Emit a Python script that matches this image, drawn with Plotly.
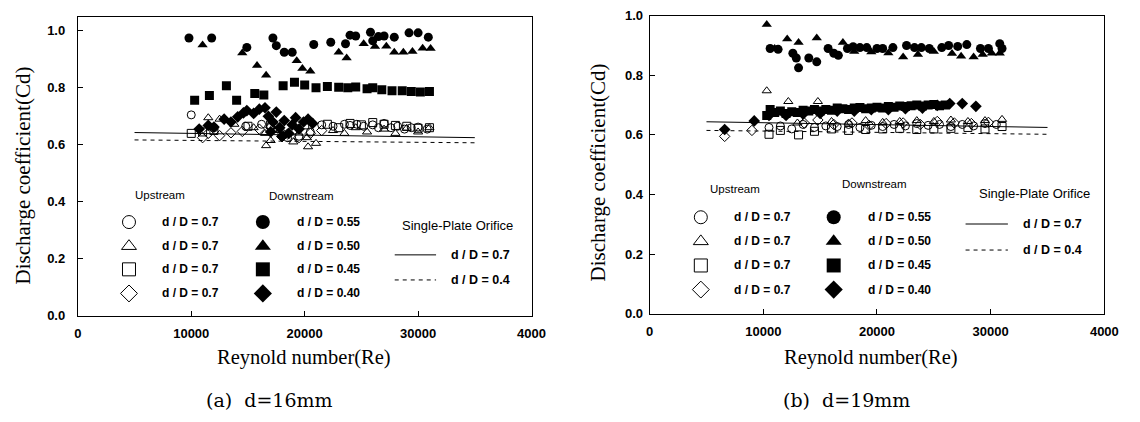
import plotly.graph_objects as go

# ---------------- (a) d=16mm ----------------
a_up_circ_re = [10000, 12000, 14800, 16200, 17000, 17600, 18000, 18500, 19000, 19500, 20500, 21500, 22500, 23500, 24000, 24600, 25200, 26000, 26500, 27000, 27600, 28200, 28800, 29400, 30000, 30800]
a_up_circ_cd = [0.705, 0.66, 0.665, 0.672, 0.665, 0.66, 0.64, 0.625, 0.65, 0.63, 0.645, 0.67, 0.665, 0.672, 0.668, 0.672, 0.665, 0.67, 0.66, 0.675, 0.66, 0.665, 0.655, 0.66, 0.662, 0.655]
a_up_tri_re = [11500, 12500, 13800, 15500, 16500, 16600, 17000, 17800, 19000, 20200, 20300, 21000, 22500, 23500, 24500, 25500, 27000, 28000, 29000, 30000, 31000]
a_up_tri_cd = [0.695, 0.69, 0.672, 0.66, 0.64, 0.597, 0.615, 0.65, 0.61, 0.625, 0.593, 0.605, 0.65, 0.64, 0.66, 0.645, 0.655, 0.64, 0.658, 0.645, 0.66]
a_up_sq_re = [10000, 11000, 12000, 15000, 17000, 20000, 22000, 23000, 24000, 25000, 26000, 27000, 28000, 29000, 30000, 31000]
a_up_sq_cd = [0.64, 0.645, 0.65, 0.665, 0.67, 0.67, 0.672, 0.66, 0.675, 0.67, 0.678, 0.672, 0.668, 0.665, 0.658, 0.66]
a_up_dia_re = [11000, 11500, 12500, 13500, 14500, 16000, 17000, 18000, 18500, 19500, 20500, 21500]
a_up_dia_cd = [0.625, 0.64, 0.632, 0.642, 0.647, 0.655, 0.662, 0.628, 0.638, 0.625, 0.64, 0.65]

a_dn_circ_re = [9800, 11800, 14900, 17200, 17500, 18200, 18900, 20800, 22300, 23600, 24000, 24500, 25800, 26000, 26500, 27000, 27900, 29200, 30000, 30900]
a_dn_circ_cd = [0.975, 0.975, 0.942, 0.975, 0.948, 0.925, 0.925, 0.952, 0.96, 0.955, 0.985, 0.982, 0.995, 0.965, 0.98, 0.982, 0.978, 0.993, 0.993, 0.978]
a_dn_tri_re = [11000, 14500, 15800, 16600, 19300, 19800, 20500, 23000, 23700, 25200, 26200, 27200, 27900, 28700, 29500, 30400, 31100]
a_dn_tri_cd = [0.95, 0.922, 0.878, 0.844, 0.895, 0.868, 0.858, 0.925, 0.905, 0.955, 0.945, 0.946, 0.925, 0.925, 0.928, 0.939, 0.938]
a_dn_sq_re = [10300, 11600, 13100, 14000, 15600, 16400, 18100, 19100, 20000, 21000, 22000, 23000, 23800, 24500, 25500, 26000, 26800, 27700, 28600, 29400, 30200, 31000]
a_dn_sq_cd = [0.756, 0.773, 0.807, 0.756, 0.78, 0.775, 0.807, 0.82, 0.81, 0.8, 0.805, 0.802, 0.8, 0.803, 0.797, 0.8, 0.793, 0.79, 0.79, 0.787, 0.785, 0.787]
a_dn_dia_re = [10700, 11500, 12000, 12900, 13500, 14100, 14600, 14900, 15500, 16000, 16500, 16800, 17000, 17200, 17500, 17800, 18000, 18200, 18600, 18900, 19200, 19500, 19900, 20300, 20700]
a_dn_dia_cd = [0.655, 0.668, 0.662, 0.69, 0.68, 0.698, 0.712, 0.72, 0.71, 0.725, 0.73, 0.7, 0.645, 0.68, 0.715, 0.66, 0.63, 0.685, 0.64, 0.67, 0.695, 0.655, 0.68, 0.69, 0.675]

a_sp07_re = [5000, 35000]
a_sp07_cd = [0.643, 0.625]
a_sp04_re = [5000, 35000]
a_sp04_cd = [0.617, 0.607]

# ---------------- (b) d=19mm ----------------
b_up_circ_re = [10500, 11500, 12500, 13500, 14500, 15500, 16500, 17500, 18500, 19500, 20500, 21500, 22500, 23500, 24500, 25500, 26500, 27500, 28500, 29500, 30500]
b_up_circ_cd = [0.625, 0.63, 0.62, 0.635, 0.625, 0.63, 0.628, 0.635, 0.625, 0.632, 0.628, 0.635, 0.63, 0.638, 0.632, 0.635, 0.628, 0.635, 0.63, 0.638, 0.635]
b_up_tri_re = [10300, 12200, 14800, 13000, 16000, 17500, 19000, 20500, 22000, 23500, 25000, 26500, 28000, 29500, 31000]
b_up_tri_cd = [0.748, 0.712, 0.712, 0.64, 0.645, 0.64, 0.648, 0.642, 0.645, 0.648, 0.645, 0.65, 0.645, 0.648, 0.652]
b_up_sq_re = [10500, 11500, 13100, 14500, 16000, 17500, 19000, 20500, 22000, 23500, 25000, 26500, 28000, 29500, 31000]
b_up_sq_cd = [0.602, 0.615, 0.6, 0.612, 0.62, 0.615, 0.618, 0.62, 0.622, 0.618, 0.62, 0.622, 0.625, 0.62, 0.628]
b_up_dia_re = [6600, 9000, 13600, 14800, 16200, 17800, 19300, 20800, 22300, 23800, 25300, 26800, 28300, 29800]
b_up_dia_cd = [0.595, 0.615, 0.64, 0.65, 0.635, 0.64, 0.632, 0.638, 0.64, 0.635, 0.645, 0.64, 0.638, 0.642]

b_dn_circ_re = [10600, 11300, 12600, 12900, 13100, 14000, 14700, 15700, 16200, 16600, 17400, 17900, 18500, 19100, 20000, 20500, 21400, 22600, 23300, 23900, 24600, 25700, 26300, 27100, 27900, 29100, 29800, 30800, 31000]
b_dn_circ_cd = [0.89, 0.887, 0.874, 0.858, 0.825, 0.858, 0.845, 0.89, 0.874, 0.867, 0.89, 0.896, 0.893, 0.893, 0.89, 0.89, 0.893, 0.9, 0.893, 0.893, 0.89, 0.893, 0.9, 0.897, 0.903, 0.89, 0.89, 0.906, 0.89]
b_dn_tri_re = [10300, 11000, 12100, 13100, 14700, 17000, 18000, 19500, 21000, 22300, 23600, 25000, 26600, 27400, 28500, 29300, 30100, 30800]
b_dn_tri_cd = [0.97, 0.89, 0.922, 0.91, 0.925, 0.91, 0.88, 0.878, 0.875, 0.861, 0.87, 0.88, 0.873, 0.864, 0.861, 0.87, 0.874, 0.874]
b_dn_sq_re = [10300, 10600, 11000, 11500, 12000, 12500, 13000, 13500, 14000, 14500, 15000, 15500, 16000, 16500, 17000, 17500, 18000, 18500, 19000, 19500, 20000, 20500, 21000, 21500, 22000, 22500, 23000, 23500, 24000, 24500, 25000, 25500, 26000]
b_dn_sq_cd = [0.665, 0.685, 0.675, 0.68, 0.672, 0.678, 0.675, 0.683, 0.68, 0.685, 0.68, 0.685, 0.683, 0.69, 0.688, 0.685, 0.69, 0.692, 0.688, 0.69, 0.693, 0.69, 0.695, 0.693, 0.697, 0.695, 0.698, 0.7, 0.697, 0.7, 0.702, 0.698, 0.7]
b_dn_dia_re = [6600, 9200, 10500, 12000, 13500, 15000, 16500, 18000, 19500, 21000, 22500, 24000, 25300, 26400, 27500, 28700]
b_dn_dia_cd = [0.618, 0.647, 0.665, 0.665, 0.67, 0.672, 0.68, 0.68, 0.685, 0.685, 0.688, 0.69, 0.699, 0.705, 0.705, 0.696]

b_sp07_re = [5000, 35000]
b_sp07_cd = [0.644, 0.625]
b_sp04_re = [5000, 35000]
b_sp04_cd = [0.615, 0.602]

# ---------------- ticks & labels ----------------
x_tick_vals = [0, 10000, 20000, 30000, 40000]
x_tick_text = ["0", "10000", "20000", "30000", "4000"]
y_tick_vals = [0.0, 0.2, 0.4, 0.6, 0.8, 1.0]
y_tick_text = ["0.0", "0.2", "0.4", "0.6", "0.8", "1.0"]
legend_up_labels = ["d / D = 0.7", "d / D = 0.7", "d / D = 0.7", "d / D = 0.7"]
legend_dn_labels = ["d / D = 0.55", "d / D = 0.50", "d / D = 0.45", "d / D = 0.40"]
legend_sp_labels = ["d / D = 0.7", "d / D = 0.4"]
captions = ["(a)\u00a0 d=16mm", "(b)\u00a0 d=19mm"]

W, H = 1140, 422
fig = go.Figure()

def pxx(p):
    return p / W

def pxy(p):
    return 1 - p / H

open_syms = ["circle-open", "triangle-up-open", "square-open", "diamond-open"]
fill_syms = ["circle", "triangle-up", "square", "diamond"]

def add_panel(xa, ya, ups, dns, sp07, sp04):
    for (re, cd), sym in zip(dns, fill_syms):
        fig.add_trace(go.Scatter(x=re, y=cd, mode="markers", xaxis=xa, yaxis=ya, showlegend=False,
                                 marker=dict(symbol=sym, size=9, color="black", line=dict(width=0))))
    for (re, cd), sym in zip(ups, open_syms):
        fig.add_trace(go.Scatter(x=re, y=cd, mode="markers", xaxis=xa, yaxis=ya, showlegend=False,
                                 marker=dict(symbol=sym, size=8, color="black", line=dict(width=1, color="black"))))
    fig.add_trace(go.Scatter(x=sp07[0], y=sp07[1], mode="lines", xaxis=xa, yaxis=ya, showlegend=False,
                             line=dict(color="black", width=1)))
    fig.add_trace(go.Scatter(x=sp04[0], y=sp04[1], mode="lines", xaxis=xa, yaxis=ya, showlegend=False,
                             line=dict(color="black", width=1, dash="4px,4px")))

add_panel("x", "y",
          [(a_up_circ_re, a_up_circ_cd), (a_up_tri_re, a_up_tri_cd), (a_up_sq_re, a_up_sq_cd), (a_up_dia_re, a_up_dia_cd)],
          [(a_dn_circ_re, a_dn_circ_cd), (a_dn_tri_re, a_dn_tri_cd), (a_dn_sq_re, a_dn_sq_cd), (a_dn_dia_re, a_dn_dia_cd)],
          (a_sp07_re, a_sp07_cd), (a_sp04_re, a_sp04_cd))
add_panel("x2", "y2",
          [(b_up_circ_re, b_up_circ_cd), (b_up_tri_re, b_up_tri_cd), (b_up_sq_re, b_up_sq_cd), (b_up_dia_re, b_up_dia_cd)],
          [(b_dn_circ_re, b_dn_circ_cd), (b_dn_tri_re, b_dn_tri_cd), (b_dn_sq_re, b_dn_sq_cd), (b_dn_dia_re, b_dn_dia_cd)],
          (b_sp07_re, b_sp07_cd), (b_sp04_re, b_sp04_cd))

tickfont = dict(family="Liberation Sans", size=13, color="black", weight="bold")
axis_common = dict(showgrid=False, zeroline=False, showline=True, linecolor="black", linewidth=1,
                   mirror=True, ticks="inside", ticklen=5, tickcolor="black", tickfont=tickfont)

fig.update_layout(
    width=W, height=H, margin=dict(l=0, r=0, t=0, b=0),
    paper_bgcolor="white", plot_bgcolor="rgba(0,0,0,0)", showlegend=False,
    xaxis=dict(domain=[pxx(75), pxx(536)], range=[0, 40000], anchor="y", ticklabelstandoff=6,
               tickvals=x_tick_vals, ticktext=x_tick_text, **axis_common),
    yaxis=dict(domain=[pxy(320), pxy(10)], range=[0, 1.05], anchor="x", ticklabelstandoff=9,
               tickvals=y_tick_vals, ticktext=y_tick_text, **axis_common),
    xaxis2=dict(domain=[pxx(656), pxx(1118)], range=[0, 40000], anchor="y2", ticklabelstandoff=6,
                tickvals=x_tick_vals, ticktext=x_tick_text, **axis_common),
    yaxis2=dict(domain=[pxy(318), pxy(9)], range=[0, 1.0], anchor="x2", ticklabelstandoff=3,
                tickvals=y_tick_vals, ticktext=y_tick_text, **axis_common),
    # overlay axis in pixel units for legend keys
    xaxis3=dict(domain=[0, 1], range=[0, W], visible=False, anchor="y3", fixedrange=True),
    yaxis3=dict(domain=[0, 1], range=[H, 0], visible=False, anchor="x3", fixedrange=True),
)

annotations = []
shapes = []
serif = "Liberation Serif"
legfont = dict(family="Liberation Sans", size=12, color="black", weight="bold")
hdrfont = dict(family="Liberation Sans", size=11.5, color="black")

def txt(x, y, s, font, angle=0):
    annotations.append(dict(x=pxx(x), y=pxy(y), xref="paper", yref="paper", text=s, showarrow=False,
                            font=font, textangle=angle, xanchor="center", yanchor="middle"))

panels = [
    dict(up_hdr=(159, 195), dn_hdr=(302, 196), sp_hdr=(461, 227), ox=127, utx=189, fx=263, dtx=330,
         rows=[223, 248, 272, 297], lx0=397, lx1=439, stx=484, sp_rows=[257, 283],
         ytitle=(19, 175), xtitle=(305, 363), cap=(270, 407)),
    dict(up_hdr=(743, 189), dn_hdr=(884, 184), sp_hdr=(1047, 193), ox=708, utx=771, fx=843, dtx=910,
         rows=[218, 243, 268, 293], lx0=977, lx1=1020, stx=1065, sp_rows=[225, 252],
         ytitle=(603, 171), xtitle=(881, 363), cap=(856, 407)),
]

for i, p in enumerate(panels):
    txt(*p["up_hdr"], "Upstream", hdrfont)
    txt(*p["dn_hdr"], "Downstream", hdrfont)
    txt(*p["sp_hdr"], "Single-Plate Orifice", dict(family="Liberation Sans", size=13, color="black"))
    for r, lab in zip(p["rows"], legend_up_labels):
        txt(p["utx"], r, lab, legfont)
    for r, lab in zip(p["rows"], legend_dn_labels):
        txt(p["dtx"], r, lab, legfont)
    fig.add_trace(go.Scatter(x=[p["ox"]] * 4, y=p["rows"], mode="markers", xaxis="x3", yaxis="y3",
                             showlegend=False, hoverinfo="skip",
                             marker=dict(symbol=open_syms, size=13, color="black", line=dict(width=1, color="black"))))
    fig.add_trace(go.Scatter(x=[p["fx"]] * 4, y=p["rows"], mode="markers", xaxis="x3", yaxis="y3",
                             showlegend=False, hoverinfo="skip",
                             marker=dict(symbol=fill_syms, size=14, color="black", line=dict(width=0))))
    for (r, lab), dash in zip(zip(p["sp_rows"], legend_sp_labels), ["solid", "4px,4px"]):
        shapes.append(dict(type="line", xref="paper", yref="paper", x0=pxx(p["lx0"]), x1=pxx(p["lx1"]),
                           y0=pxy(r), y1=pxy(r), line=dict(color="black", width=1, dash=dash)))
        txt(p["stx"], r, lab, dict(family="Liberation Sans", size=12.5, color="black", weight="bold"))
    txt(*p["ytitle"], "Discharge coefficient(Cd)", dict(family=serif, size=21, color="black"), angle=-90)
    txt(*p["xtitle"], "Reynold number(Re)", dict(family=serif, size=20.5, color="black"))
    txt(*p["cap"], captions[i], dict(family="DejaVu Serif", size=19, color="black"))

fig.update_layout(annotations=annotations, shapes=shapes)
fig.write_html("out.html")
